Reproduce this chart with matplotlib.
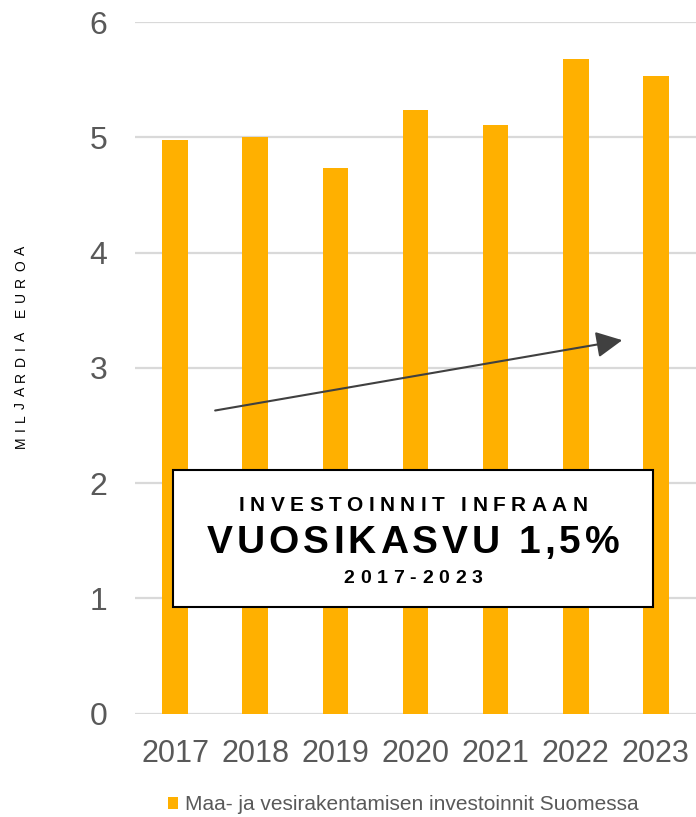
import matplotlib
matplotlib.use('Agg')
import matplotlib.pyplot as plt
from matplotlib.patches import Rectangle
from matplotlib.transforms import IdentityTransform
from matplotlib.font_manager import FontProperties, findfont, get_font

years = ['2017', '2018', '2019', '2020', '2021', '2022', '2023']
investments = [4.98, 5.00, 4.73, 5.24, 5.11, 5.68, 5.53]
yticks = [0, 1, 2, 3, 4, 5, 6]
series_label = 'Maa- ja vesirakentamisen investoinnit Suomessa'
ylabel = 'MILJARDIA EUROA'
box_lines = ['INVESTOINNIT INFRAAN', 'VUOSIKASVU 1,5%', '2017-2023']

BAR = '#FFB000'
GRAY = '#595959'
FONT = 'Liberation Sans'
W, H = 696, 817

plt.rcParams['font.family'] = FONT


def spaced_text(fig, cx, cy, s, size, track, weight='normal', color='black', vertical=False):
    # letter-spaced text, positions in pixels (y up)
    prop = FontProperties(family=FONT, weight=weight, size=size)
    font = get_font(findfont(prop))
    font.set_size(size, fig.dpi)
    adv = [font.load_char(ord(ch)).linearHoriAdvance / 65536 for ch in s]
    total = sum(adv) + track * (len(s) - 1)
    pos = -total / 2
    for ch, a in zip(s, adv):
        c = pos + a / 2
        if vertical:
            fig.text(cx, cy + c, ch, rotation=90, ha='center', va='center',
                     transform=IdentityTransform(), fontproperties=prop, color=color)
        else:
            fig.text(cx + c, cy, ch, ha='center', va='baseline',
                     transform=IdentityTransform(), fontproperties=prop, color=color)
        pos += a + track


fig = plt.figure(figsize=(W / 100, H / 100), dpi=100)
ax = fig.add_axes([135 / W, 1 - 713.7 / H, 1 - 135 / W, (713.7 - 22) / H])

x = range(len(years))
ax.bar(x, investments, width=0.32, color=BAR, label=series_label, zorder=2)

ax.set_xlim(-0.5, 6.5)
ax.set_ylim(0, 6)
ax.set_yticks(yticks)
ax.set_xticks(list(x))
ax.set_xticklabels(years)
ax.yaxis.grid(True, color='#D9D9D9', lw=1.6, zorder=0)
ax.set_axisbelow(True)
for sp in ax.spines.values():
    sp.set_visible(False)
ax.tick_params(axis='y', length=0, pad=20, labelsize=23, labelcolor=GRAY)
ax.tick_params(axis='x', length=0, pad=18, labelsize=22, labelcolor=GRAY)

# trend arrow
ax.annotate('', xy=(5.58, 3.24), xytext=(0.5, 2.63),
            arrowprops=dict(arrowstyle='-|>,head_length=0.5,head_width=0.25',
                            color='#404040', lw=1.5,
                            mutation_scale=32, shrinkA=0, shrinkB=0), zorder=3)

# text box
ax.add_patch(Rectangle((-0.025, 0.925), 5.985, 1.185, facecolor='white',
                       edgecolor='black', lw=1.5, zorder=4))
spaced_text(fig, 413, H - 511, box_lines[0], 15, 5.4, weight='bold')
spaced_text(fig, 413, H - 553, box_lines[1], 28, 4.0, weight='bold')
spaced_text(fig, 413, H - 583, box_lines[2], 14, 5.8, weight='bold')

# y label
spaced_text(fig, 21, H - 347, ylabel, 10, 5.5, color='black', vertical=True)

leg = ax.legend(loc='center', bbox_to_anchor=(403 / W, 1 - 805 / H),
                bbox_transform=fig.transFigure, frameon=False, fontsize=15,
                handlelength=0.5, handleheight=0.5, handletextpad=0.3)
for t in leg.get_texts():
    t.set_color(GRAY)

fig.savefig('out.png', dpi=100)
